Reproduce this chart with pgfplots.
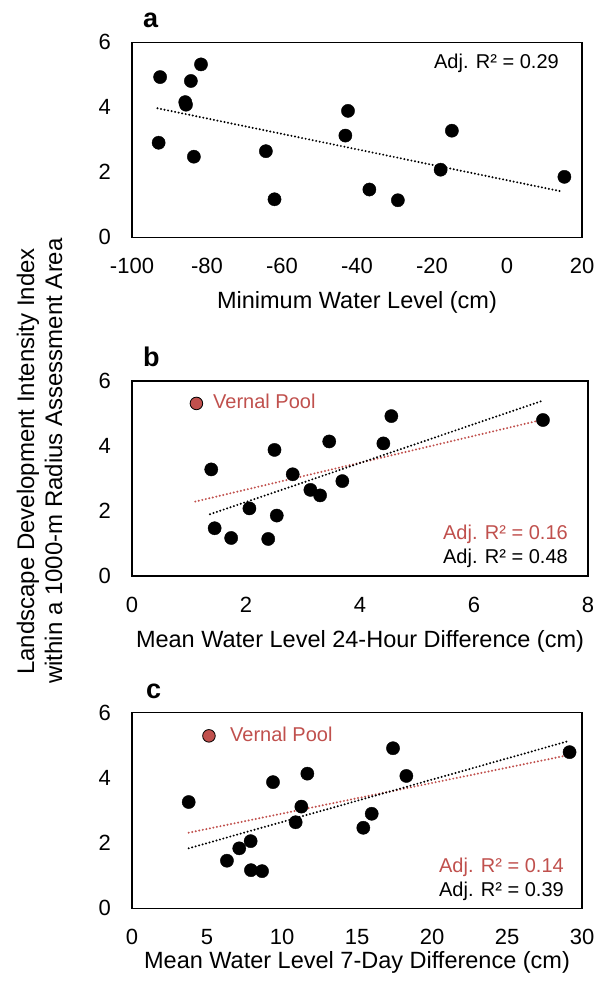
\documentclass[border=0pt]{standalone}
\usepackage{fontspec}
\setmainfont{Liberation Sans}
\usepackage{pgfplots}
\pgfplotsset{compat=1.18}
\definecolor{vpred}{RGB}{192,80,77}

\pgfplotsset{
  panel/.style={
    scale only axis, anchor=north west,
    ymin=0, ymax=6, ytick={0,2,4,6},
    major tick length=0pt,
    axis line style={line width=1.3pt},
    /pgf/number format/assume math mode=true,
    tick label style={font=\fontsize{22}{26}\selectfont},
    yticklabel style={anchor=east, inner sep=0pt, xshift=-21pt},
    xticklabel style={anchor=north, inner sep=0pt, yshift=-21pt},
    xlabel style={font=\fontsize{23.5}{28}\selectfont, anchor=base,
      at={(axis description cs:0.5,0)}},
    clip=false,
  },
  dots/.style={only marks, mark=*, mark size=6.6pt,
    mark options={fill=black, draw=black}},
  vpool/.style={only marks, mark=*, mark size=6.3pt,
    mark options={fill=vpred, draw=black, line width=0.8pt}},
  trend/.style={no marks, line width=2.2pt, line cap=round,
    dash pattern=on 0pt off 3.6pt},
}

\begin{document}
\begin{tikzpicture}[x=1pt,y=1pt]
\useasboundingbox (0,0) rectangle (597,-982);

% a: minimum water level
\begin{axis}[panel, at={(132pt,-42.3pt)}, width=450pt, height=195pt,
  xmin=-100, xmax=20, xtick={-100,-80,...,20},
  xlabel={Minimum Water Level (cm)}, xlabel style={yshift=-70.7pt}]
\addplot[dots] coordinates {
  (-92.5,4.93) (-92.9,2.91) (-84.3,4.81) (-81.6,5.32) (-85.8,4.16)
  (-85.6,4.08) (-83.5,2.48) (-64.3,2.65) (-62.0,1.17) (-42.4,3.89)
  (-43.1,3.13) (-36.7,1.47) (-29.1,1.14) (-17.7,2.08) (-14.7,3.28)
  (15.3,1.86)
};
\addplot[trend, black] coordinates {(-93.2,3.97) (14.2,1.42)};
\end{axis}

% b: 24-hour difference
\begin{axis}[panel, at={(132pt,-381pt)}, width=456pt, height=195pt,
  xmin=0, xmax=8, xtick={0,2,...,8},
  xlabel={Mean Water Level 24-Hour Difference (cm)}, xlabel style={yshift=-71pt}]
\addplot[dots] coordinates {
  (1.39,3.28) (1.45,1.47) (1.74,1.17) (2.06,2.08) (2.39,1.14)
  (2.50,3.88) (2.54,1.86) (2.82,3.13) (3.13,2.65) (3.30,2.48)
  (3.46,4.14) (3.69,2.92) (4.41,4.08) (4.55,4.92) (7.21,4.80)
};
\addplot[vpool] coordinates {(1.13,5.31)};
\addplot[trend, vpred] coordinates {(1.11,2.29) (7.18,4.80)};
\addplot[trend, black] coordinates {(1.37,1.90) (7.18,5.38)};
\end{axis}

% c: 7-day difference
\begin{axis}[panel, at={(132pt,-712.7pt)}, width=450pt, height=195.6pt,
  xmin=0, xmax=30, xtick={0,5,...,30},
  xlabel={Mean Water Level 7-Day Difference (cm)}, xlabel style={yshift=-60pt}]
\addplot[dots] coordinates {
  (3.78,3.26) (6.33,1.46) (7.15,1.84) (7.91,2.06) (7.93,1.17)
  (8.67,1.14) (9.40,3.87) (10.91,2.64) (11.29,3.12) (11.69,4.13)
  (15.42,2.47) (15.98,2.90) (17.40,4.91) (18.29,4.06) (29.17,4.79)
};
\addplot[vpool] coordinates {(5.13,5.29)};
\addplot[trend, vpred] coordinates {(3.78,2.32) (29.1,4.70)};
\addplot[trend, black] coordinates {(3.78,1.84) (29.1,5.13)};
\end{axis}

% panel letters
\begin{scope}[every node/.style={inner sep=0pt, anchor=base west,
    font=\fontsize{27}{30}\selectfont\bfseries}]
\node at (143,-28) {a};
\node at (143,-366) {b};
\node at (146,-698) {c};
\end{scope}

% annotations
\begin{scope}[every node/.style={inner sep=0pt, font=\fontsize{20}{24}\selectfont}]
\node[anchor=base east] at (559,-69) {Adj. R² = 0.29};
\node[anchor=base east, text=vpred] at (568,-539.3) {Adj. R² = 0.16};
\node[anchor=base east] at (568,-563.3) {Adj. R² = 0.48};
\node[anchor=base east, text=vpred] at (564,-872.3) {Adj. R² = 0.14};
\node[anchor=base east] at (564,-896.7) {Adj. R² = 0.39};
\node[anchor=base west, text=vpred] at (213,-408.3) {Vernal Pool};
\node[anchor=base west, text=vpred] at (230,-741) {Vernal Pool};
\end{scope}

% shared y label
\begin{scope}[every node/.style={inner sep=0pt, anchor=base, rotate=90,
    font=\fontsize{24}{28}\selectfont}]
\node at (34,-461.5) {Landscape Development Intensity Index};
\node at (62,-461) {within a 1000-m Radius Assessment Area};
\end{scope}
\end{tikzpicture}
\end{document}
